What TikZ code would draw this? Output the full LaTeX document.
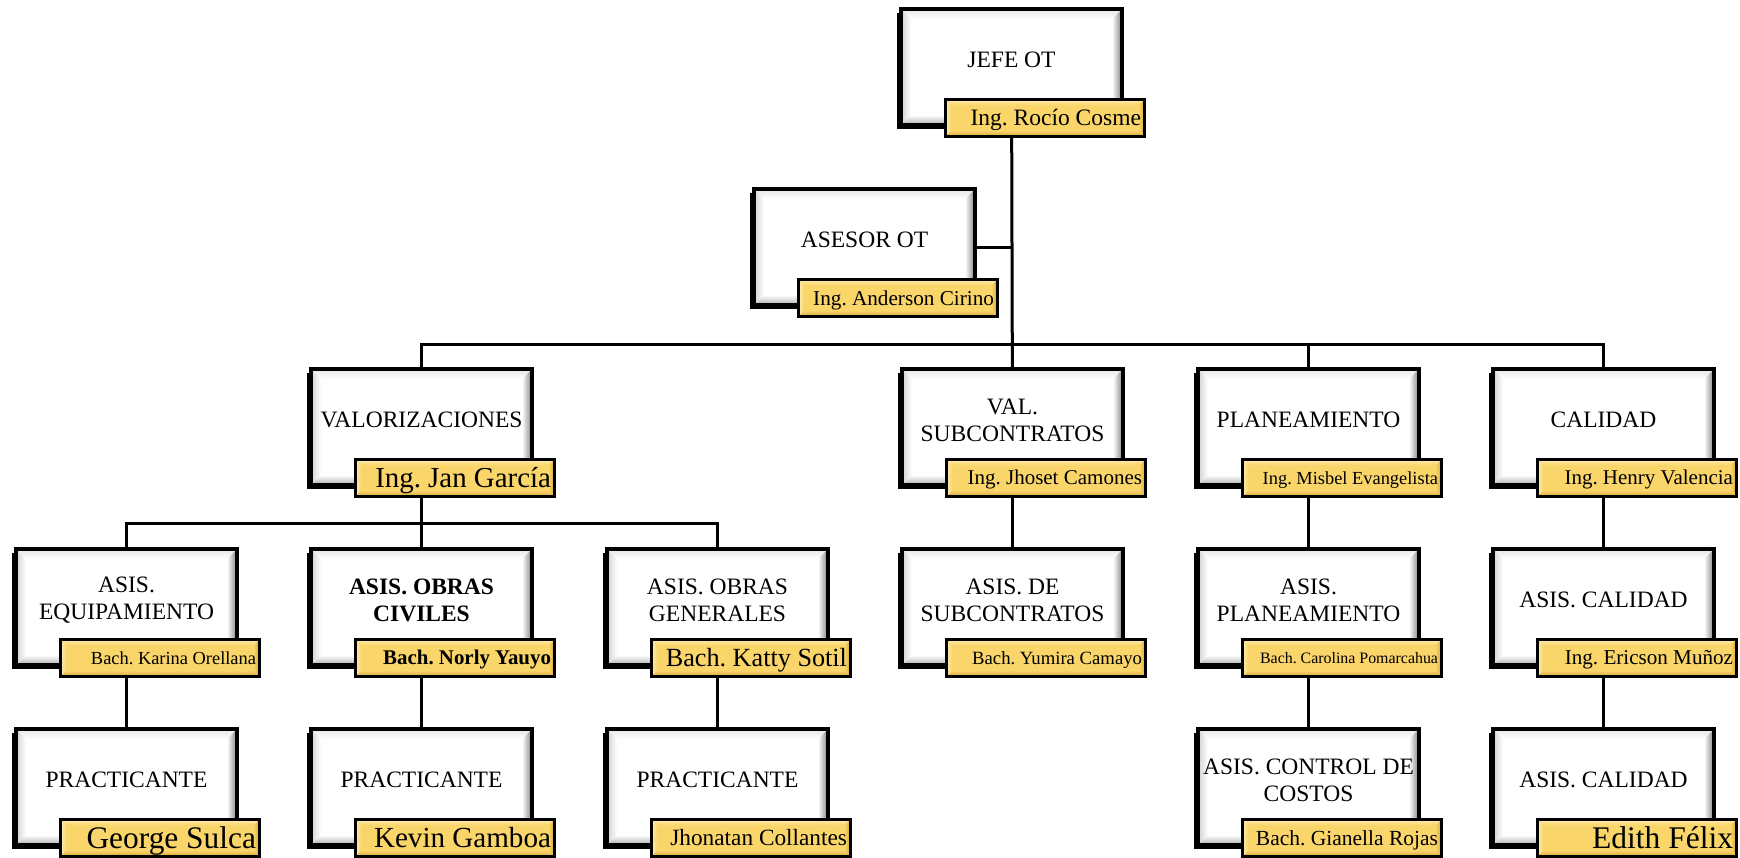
\documentclass[tikz,border=0pt]{standalone}
\usepackage{fontspec}
\setmainfont{Liberation Serif}
\usetikzlibrary{shadows,backgrounds,calc}
\definecolor{gold}{RGB}{249,213,106}
\definecolor{goldlt}{RGB}{253,236,176}
\definecolor{golddk}{RGB}{212,168,56}
\frenchspacing

\newcommand\bevelpic[6]{%
  \coordinate (bvNW) at (path picture bounding box.north west);
  \coordinate (bvNE) at (path picture bounding box.north east);
  \coordinate (bvSW) at (path picture bounding box.south west);
  \coordinate (bvSE) at (path picture bounding box.south east);
  \coordinate (bvnw) at ([shift={(#1,-#1)}]bvNW);
  \coordinate (bvne) at ([shift={(-#1,-#1)}]bvNE);
  \coordinate (bvsw) at ([shift={(#1,#1)}]bvSW);
  \coordinate (bvse) at ([shift={(-#1,#1)}]bvSE);
  \shade[top color=#3, bottom color=#2] (bvNW) -- (bvNE) -- (bvne) -- (bvnw) -- cycle;
  \shade[left color=#4, right color=#2] (bvNW) -- (bvnw) -- (bvsw) -- (bvSW) -- cycle;
  \shade[left color=#2, right color=#5] (bvNE) -- (bvSE) -- (bvse) -- (bvne) -- cycle;
  \shade[top color=#2, bottom color=#6] (bvSW) -- (bvsw) -- (bvse) -- (bvSE) -- cycle;
}

\tikzset{
  mainbox/.style={draw=black, line width=4pt, fill=white,
    minimum width=221pt, minimum height=116pt, inner sep=0pt,
    drop shadow={shadow xshift=-4pt, shadow yshift=-4pt, fill=black, opacity=1},
    path picture={\bevelpic{10pt}{white}{black!10}{black!18}{black!50}{black!32}}},
  lblbox/.style={draw=black, line width=3pt, fill=gold,
    minimum width=199pt, minimum height=37pt, inner sep=0pt,
    path picture={\bevelpic{6pt}{gold}{goldlt}{goldlt}{golddk}{golddk}}},
  maintext/.style={align=center, inner sep=0pt, text=black},
  conn/.style={draw=black, line width=3pt},
}

% #1 name, #2 x, #3 y (top-left), #4 main text, #5 label size, #6 label text, #7 font switch
\newcommand\orgunit[7]{%
  \node[mainbox] (#1) at (#2+112.5,#3+60) {};
  \node[maintext, font=\fontsize{23.5pt}{27pt}\selectfont#7] (#1-t) at ([yshift=7pt]#1.center) {#4};
  \node[lblbox] (#1-l) at (#2+146,#3+111)
    {\makebox[192pt][r]{\fontsize{#5pt}{#5pt}\selectfont#7\raisebox{-.33em}[0pt][0pt]{#6}}};
}

\begin{document}
\begin{tikzpicture}[x=1pt,y=-1pt]
\useasboundingbox (0,0) rectangle (1740,857);

\orgunit{jefe}{899}{7}{JEFE OT}{23.5}{Ing. Rocío Cosme}{}
\orgunit{asesor}{752}{187}{ASESOR OT}{21.2}{Ing. Anderson Cirino}{}

\orgunit{valor}{309}{367}{VALORIZACIONES}{28.9}{Ing. Jan García}{}
\orgunit{valsub}{900}{367}{VAL.\\SUBCONTRATOS}{21}{Ing. Jhoset Camones}{}
\orgunit{plan}{1196}{367}{PLANEAMIENTO}{18.4}{Ing. Misbel Evangelista}{}
\orgunit{calid}{1491}{367}{CALIDAD}{21}{Ing. Henry Valencia}{}

\orgunit{equip}{14}{547}{ASIS.\\EQUIPAMIENTO}{18.4}{Bach. Karina Orellana}{}
\orgunit{civil}{309}{547}{ASIS. OBRAS\\CIVILES}{20.9}{Bach. Norly Yauyo}{\bfseries}
\orgunit{gener}{605}{547}{ASIS. OBRAS\\GENERALES}{26.2}{Bach. Katty Sotil}{}
\orgunit{asisub}{900}{547}{ASIS. DE\\SUBCONTRATOS}{18.7}{Bach. Yumira Camayo}{}
\orgunit{asplan}{1196}{547}{ASIS.\\PLANEAMIENTO}{15.9}{Bach. Carolina Pomarcahua}{}
\orgunit{ascal}{1491}{547}{ASIS. CALIDAD}{21.1}{Ing. Ericson Muñoz}{}

\orgunit{prac1}{14}{727}{PRACTICANTE}{31.4}{George Sulca}{}
\orgunit{prac2}{309}{727}{PRACTICANTE}{29.1}{Kevin Gamboa}{}
\orgunit{prac3}{605}{727}{PRACTICANTE}{23.3}{Jhonatan Collantes}{}
\orgunit{control}{1196}{727}{ASIS. CONTROL DE\\COSTOS}{21.5}{Bach. Gianella Rojas}{}
\orgunit{ascal2}{1491}{727}{ASIS. CALIDAD}{31.5}{Edith Félix}{}

\begin{pgfonlayer}{background}
  \fill[white] (0,0) rectangle (1740,857);
  \coordinate (bus3) at (jefe |- 0,344);
  \coordinate (bus4) at (valor |- 0,523);
  \draw[conn] (jefe) -- (valsub);
  \draw[conn] (asesor) -- (asesor -| jefe);
  \draw[conn] (bus3) -| (valor);
  \draw[conn] (bus3) -| (plan);
  \draw[conn] (bus3) -| (calid);
  \draw[conn] (valor) -- (civil);
  \draw[conn] (bus4) -| (equip);
  \draw[conn] (bus4) -| (gener);
  \draw[conn] (valsub) -- (asisub);
  \draw[conn] (plan) -- (asplan);
  \draw[conn] (asplan) -- (control);
  \draw[conn] (calid) -- (ascal);
  \draw[conn] (ascal) -- (ascal2);
  \draw[conn] (equip) -- (prac1);
  \draw[conn] (civil) -- (prac2);
  \draw[conn] (gener) -- (prac3);
\end{pgfonlayer}
\end{tikzpicture}
\end{document}
